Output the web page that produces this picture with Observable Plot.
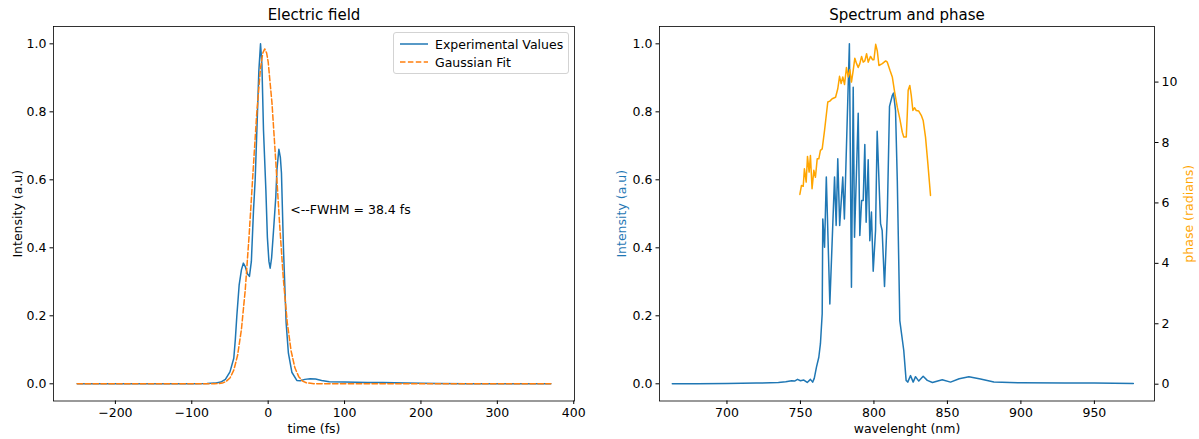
<!DOCTYPE html>
<html><head><meta charset="utf-8">
<script src="https://cdn.jsdelivr.net/npm/d3@7"></script>
<script src="https://cdn.jsdelivr.net/npm/@observablehq/plot@0.6"></script>
<style>
body{margin:0;background:#fff;}
#wrap{position:relative;width:1199px;height:439px;font-family:"DejaVu Sans",sans-serif;overflow:hidden;}
.panel{position:absolute;top:0;}
.legend{position:absolute;left:393px;top:32px;width:176px;height:42px;border:1px solid #d3d3d3;border-radius:3px;background:rgba(255,255,255,0.8);box-sizing:border-box;font-size:12.5px;}
.legend .row{position:absolute;left:0;height:16px;display:flex;align-items:center;}
.legend svg{margin-left:6px;margin-right:7px;}
</style></head><body>
<div id="wrap"></div>
<script>
// ---- Left panel: electric field ----
const timeFs = [-250,-150,-100,-80,-70,-62,-56,-50,-45,-43,-41,-38,-35,-32.5,-30,-27,-24.5,-22,-19.2,-17,-14.8,-12.2,-10,-8.2,-6.1,-3,-1,1,2.6,4.5,7,10,11.5,14,16,17.4,20,23.5,26.5,31,37.5,42,48,55,62,70,80,100,130,150,180,220,260,370];
const experimental = [0,0,0,0.001,0.002,0.005,0.013,0.035,0.075,0.13,0.2,0.29,0.335,0.355,0.345,0.323,0.316,0.36,0.51,0.6,0.745,0.92,1.0,0.94,0.745,0.57,0.43,0.36,0.34,0.37,0.45,0.55,0.63,0.69,0.665,0.62,0.4,0.18,0.09,0.034,0.01,0.009,0.013,0.015,0.014,0.01,0.006,0.005,0.004,0.004,0.002,0.001,0,0];
const fitTime = [-250,-100,-80,-70,-60,-55,-50,-45,-40,-35,-30,-25,-20,-15,-10,-7,-4.5,-2,0,5,10,15,20,25,30,35,40,45,50,60,80,370];
const gaussianFit = [0,0,0,0,0.002,0.007,0.017,0.04,0.084,0.16,0.276,0.434,0.616,0.794,0.929,0.973,0.985,0.973,0.947,0.826,0.653,0.469,0.305,0.18,0.097,0.047,0.021,0.008,0.003,0,0,0];
const timeTicks = [-200,-100,0,100,200,300,400];
const intensityTicks = [0,0.2,0.4,0.6,0.8,1.0];
const fwhmNote = {t: 29, v: 0.51, text: "<--FWHM = 38.4 fs"};

// ---- Right panel: spectrum and phase ----
const wavelength = [662.8,680,700,720,735,740,744,746,748,750,752.3,754.6,756.8,758.3,759.4,760.9,762.5,763.6,764.8,765.2,766.4,767.6,770,773.2,774.3,775.4,776.7,778.8,779.9,783.3,784.7,785.9,786.8,789.3,790.4,791.6,792.7,793.8,794.7,796.1,797.2,798.3,799.5,801.1,802.2,804.5,805.6,807.2,809.1,810.6,812.5,813.3,814.7,815.9,817.6,820.3,821.9,823,824.9,826.7,828.3,830.5,833.5,836.3,839.8,846.5,852.1,858,864.6,872.5,881.6,900,930,950,976.5];
const spectrum = [0,0,0.001,0.002,0.004,0.006,0.009,0.008,0.013,0.009,0.011,0.004,0.013,0.005,0.016,0.049,0.078,0.118,0.206,0.485,0.402,0.608,0.235,0.608,0.466,0.662,0.466,0.608,0.485,1.0,0.284,0.872,0.431,0.796,0.436,0.539,0.539,0.704,0.475,0.659,0.421,0.505,0.331,0.451,0.743,0.471,0.451,0.286,0.5,0.816,0.848,0.855,0.804,0.598,0.186,0.098,0.01,0.005,0.024,0.005,0.021,0.008,0.022,0.01,0.004,0.012,0.005,0.015,0.021,0.014,0.005,0.003,0.002,0.002,0.001];
const phaseWavelength = [749.6,750.7,751.9,752.7,753.9,754.8,755.9,756.8,757.9,759.1,760.2,761.4,762.5,763.6,764.8,766.4,768.6,770,771.6,773.9,775.4,776.6,777.7,778.8,780,781.3,782.5,783.6,784.7,785.9,787,788.2,789.3,790.4,791.6,792.7,793.8,795,796.1,797.7,799.1,800,801.2,802.3,803.4,805.7,808,809.1,810.9,812.5,814.1,815.9,817.6,819.3,820.3,822,822.7,823.3,824.4,825.4,826.5,827.6,828.8,830.5,832.2,833.5,835.1,836.7,838.5];
const phase = [6.28,6.58,6.55,7.13,6.69,7.54,7.02,7.57,6.47,7.08,6.85,7.46,7.46,7.74,7.79,8.4,9.34,9.37,9.45,9.5,9.78,10.19,9.95,10.17,9.92,10.48,10.17,10.41,10.0,10.39,10.79,10.61,10.48,10.61,10.85,10.66,10.7,10.94,10.66,10.85,10.74,10.74,11.25,11.03,10.55,10.61,10.7,10.66,10.39,10.17,9.67,9.17,8.79,8.34,8.18,8.18,8.95,9.73,9.89,9.56,9.06,9.15,9.06,9.04,8.9,8.73,8.18,7.3,6.25];
const wavelengthTicks = [700,750,800,850,900,950];
const phaseTicks = [0,2,4,6,8,10];

const BLUE = "#1f77b4", ORANGE = "#ff7f0e", PHASE = "#ffa500";
const baseStyle = {fontFamily: "DejaVu Sans, sans-serif", fontSize: "12.5px", color: "black", background: "transparent", overflow: "visible"};
const H = 439, MT = 26, MB = 38.5;
const intensityDomain = [-0.0506, 1.051];
const centered = {textAnchor: "middle", lineAnchor: "middle"};

const wrap = document.getElementById("wrap");
function place(node, left) {
  node.classList.add("panel");
  node.style.left = left + "px";
  wrap.appendChild(node);
}

const expRows = timeFs.map((t, i) => ({t, v: experimental[i]}));
const fitRows = fitTime.map((t, i) => ({t, v: gaussianFit[i]}));

const left = Plot.plot({
  width: 600, height: H, marginLeft: 53, marginRight: 26, marginTop: MT, marginBottom: MB,
  style: baseStyle,
  x: {domain: [-281, 401]},
  y: {domain: intensityDomain},
  marks: [
    Plot.axisX({ticks: timeTicks, tickSize: 3.5, tickPadding: 3.5, label: null}),
    Plot.axisY({ticks: intensityTicks, tickFormat: d3.format(".1f"), tickSize: 3.5, tickPadding: 3.5, label: null}),
    Plot.line(expRows, {x: "t", y: "v", stroke: BLUE, strokeWidth: 1.5}),
    Plot.line(fitRows, {x: "t", y: "v", stroke: ORANGE, strokeWidth: 1.5, strokeDasharray: "5.5,2.4"}),
    Plot.text([fwhmNote], {x: "t", y: "v", text: "text", textAnchor: "start", lineAnchor: "middle", fontSize: 12.5}),
    Plot.frame({stroke: "black", strokeWidth: 0.8}),
    Plot.text(["Electric field"], {frameAnchor: "top", dy: -11, fontSize: 15, ...centered}),
    Plot.text(["time (fs)"], {frameAnchor: "bottom", dy: 27.5, fontSize: 12.5, ...centered}),
    Plot.text(["Intensity (a.u)"], {frameAnchor: "left", dx: -36, rotate: -90, fontSize: 12.5, ...centered})
  ]
});
place(left, 0);

const specRows = wavelength.map((w, i) => ({w, v: spectrum[i]}));
const phaseRows = phaseWavelength.map((w, i) => ({w, p: phase[i]}));
const xDomainR = [654.1, 990.9];

const right = Plot.plot({
  width: 599, height: H, marginLeft: 59, marginRight: 45, marginTop: MT, marginBottom: MB,
  style: baseStyle,
  x: {domain: xDomainR},
  y: {domain: intensityDomain},
  marks: [
    Plot.axisX({ticks: wavelengthTicks, tickSize: 3.5, tickPadding: 3.5, label: null}),
    Plot.axisY({ticks: intensityTicks, tickFormat: d3.format(".1f"), tickSize: 3.5, tickPadding: 3.5, label: null}),
    Plot.line(specRows, {x: "w", y: "v", stroke: BLUE, strokeWidth: 1.5}),
    Plot.frame({stroke: "black", strokeWidth: 0.8}),
    Plot.text(["Spectrum and phase"], {frameAnchor: "top", dy: -11, fontSize: 15, ...centered}),
    Plot.text(["wavelenght (nm)"], {frameAnchor: "bottom", dy: 27.5, fontSize: 12.5, ...centered}),
    Plot.text(["Intensity (a.u)"], {frameAnchor: "left", dx: -38, rotate: -90, fontSize: 12.5, fill: BLUE, ...centered})
  ]
});
place(right, 600);

const rightPhase = Plot.plot({
  width: 599, height: H, marginLeft: 59, marginRight: 45, marginTop: MT, marginBottom: MB,
  style: baseStyle,
  x: {domain: xDomainR, axis: null},
  y: {domain: [-0.556, 11.84]},
  marks: [
    Plot.axisY({anchor: "right", ticks: phaseTicks, tickFormat: d => String(d), tickSize: 3.5, tickPadding: 3.5, label: null}),
    Plot.line(phaseRows, {x: "w", y: "p", stroke: PHASE, strokeWidth: 1.5}),
    Plot.text(["phase (radians)"], {frameAnchor: "right", dx: 34, rotate: -90, fontSize: 12.5, fill: PHASE, ...centered})
  ]
});
place(rightPhase, 600);

// legend
const legend = document.createElement("div");
legend.className = "legend";
const entries = [
  {label: "Experimental Values", color: BLUE, dash: null, top: 3},
  {label: "Gaussian Fit", color: ORANGE, dash: "5.5,2.4", top: 21}
];
for (const e of entries) {
  const row = document.createElement("div");
  row.className = "row";
  row.style.top = e.top + "px";
  row.innerHTML = `<svg width="28" height="10"><line x1="0" x2="28" y1="5" y2="5" stroke="${e.color}" stroke-width="1.5" ${e.dash ? `stroke-dasharray="${e.dash}"` : ""}/></svg><span>${e.label}</span>`;
  legend.appendChild(row);
}
wrap.appendChild(legend);
</script>
</body></html>
